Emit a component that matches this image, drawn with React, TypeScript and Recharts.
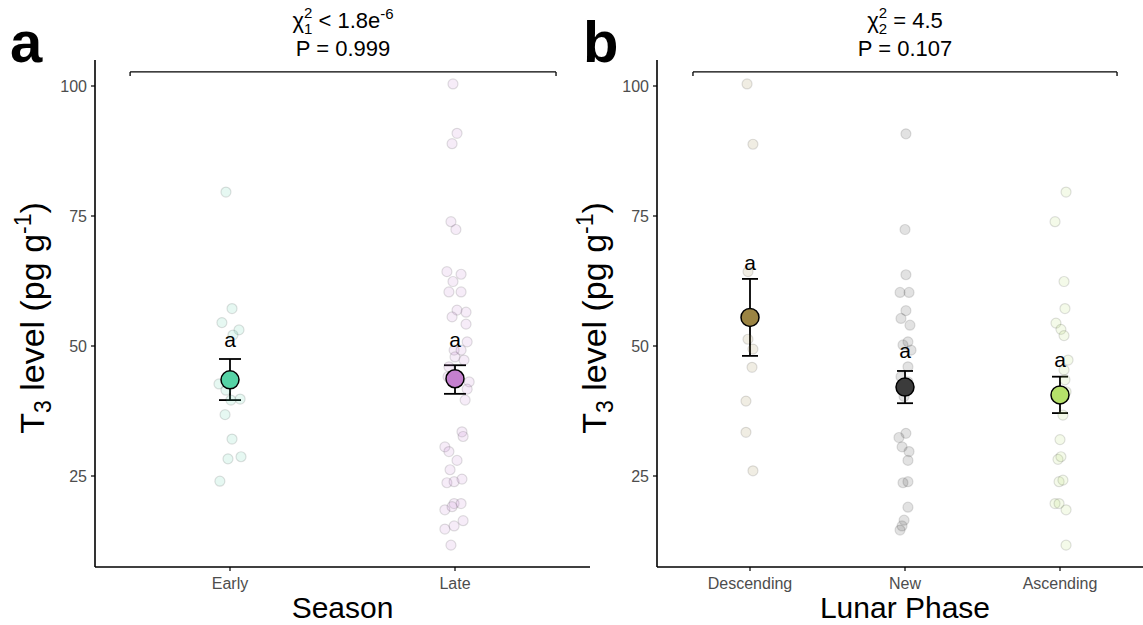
import React from 'react';
import {
  ComposedChart,
  Scatter,
  XAxis,
  YAxis,
  ErrorBar,
  ReferenceLine,
  ReferenceDot,
  Label,
  Cell,
} from 'recharts';

const FONT = '"Liberation Sans", Arial, Helvetica, sans-serif';

// ---------- Panel a : Season ----------
const seasonCategories = ['Early', 'Late'];
const seasonColors = ['#56d3a6', '#c47fce'];
const seasonMeans = [43.5, 43.7];
const seasonLower = [39.6, 40.8];
const seasonUpper = [47.5, 46.3];
const seasonLetters = ['a', 'a'];
const seasonLetterY = [49.9, 49.9];

const earlyValues = [79.6, 57.2, 54.5, 53.1, 52.1, 42.7, 41.5, 39.6, 39.8, 36.8, 32.1, 28.3, 28.7, 24.0];
const earlyJitter = [-0.018, 0.009, -0.036, 0.04, 0.013, -0.049, -0.018, 0.004, 0.045, -0.022, 0.009, -0.009, 0.049, -0.045];

const lateValues = [
  100.4, 90.9, 88.9, 73.9, 72.4, 64.3, 63.8, 62.4, 60.4, 60.4, 56.9, 56.5, 55.6, 54.2, 50.8, 49.2, 49.2, 47.9,
  47.3, 46.0, 44.1, 43.1, 41.7, 39.6, 33.5, 32.6, 30.6, 29.7, 28.0, 26.2, 23.7, 23.9, 24.4, 19.7, 19.7, 18.5,
  19.1, 14.8, 15.4, 16.4, 11.7,
];
const lateJitter = [
  -0.009, 0.009, -0.013, -0.018, 0.004, -0.036, 0.027, -0.009, -0.027, 0.027, 0.009, 0.049, -0.013, 0.049, 0.054,
  -0.004, 0.027, 0, 0.04, -0.027, -0.031, 0.063, 0.054, 0.045, 0.031, 0.036, -0.045, -0.027, 0.009, -0.022, -0.036,
  -0.004, 0.031, -0.004, 0.027, -0.045, -0.013, -0.045, -0.004, 0.036, -0.018,
];

// ---------- Panel b : Lunar phase ----------
const lunarCategories = ['Descending', 'New', 'Ascending'];
const lunarColors = ['#9b8443', '#3b3b3b', '#b5e06a'];
const lunarMeans = [55.5, 42.1, 40.6];
const lunarLower = [48.1, 39.0, 37.1];
const lunarUpper = [62.9, 45.2, 44.1];
const lunarLetters = ['a', 'a', 'a'];
const lunarLetterY = [64.6, 47.6, 45.9];

const descendingValues = [100.4, 88.8, 64.3, 51.3, 49.4, 45.9, 39.4, 33.4, 26.0];
const descendingJitter = [-0.019, 0.019, -0.013, -0.013, 0.019, 0.013, -0.026, -0.026, 0.019];

const newValues = [
  90.8, 72.4, 63.7, 60.3, 60.3, 56.8, 55.3, 54.0, 50.8, 50.2, 49.2, 46.0, 44.1, 43.1, 40.3, 33.2, 32.4, 30.6, 29.7,
  28.0, 23.7, 23.9, 19.0, 16.5, 15.4, 14.6,
];
const newJitter = [
  0.006, 0, 0.006, -0.032, 0.026, 0.006, -0.026, 0.032, 0.019, -0.013, 0.039, 0.019, -0.026, 0.019, -0.006, 0.006,
  -0.039, -0.019, 0.026, 0.019, -0.013, 0.019, 0.019, -0.006, -0.019, -0.032,
];

const ascendingValues = [
  79.6, 73.9, 62.4, 57.2, 54.4, 53.2, 52.0, 47.3, 45.4, 43.5, 41.2, 36.7, 32.0, 28.2, 28.7, 23.9, 24.2, 19.7, 19.7,
  18.5, 11.7,
];
const ascendingJitter = [
  0.039, -0.032, 0.026, 0.032, -0.026, 0.006, 0.026, 0.052, 0.026, 0.032, 0.039, 0.019, 0, -0.013, 0.006, -0.006,
  0.019, -0.032, -0.006, 0.039, 0.039,
];

const yTicks = [25, 50, 75, 100];
const yDomain: [number, number] = [7.5, 105];
const bracketY = 102.7;
const bracketTipY = 101.9;

type Group = { values: number[]; jitter: number[] };

type PanelProps = {
  left: number;
  width: number;
  yAxisWidth: number;
  categories: string[];
  colors: string[];
  groups: Group[];
  means: number[];
  lower: number[];
  upper: number[];
  letters: string[];
  letterY: number[];
  capHalfWidth: number;
  bracket: [number, number];
  stat1: React.ReactNode;
  stat2: string;
  panelLetter: string;
  panelLetterX: number;
  yTitleX: number;
  xTitle: string;
};

const CHART_H = 625;
const TOP = 60;
const X_AXIS_H = 58;

function Panel(p: PanelProps) {
  const n = p.categories.length;
  const xDomain: [number, number] = [0.4, n + 0.6];
  const xTicks = p.categories.map((_, i) => i + 1);
  const meanData = p.means.map((m, i) => ({
    x: i + 1,
    y: m,
    err: [m - p.lower[i], p.upper[i] - m],
  }));
  const letterData = p.letters.map((l, i) => ({ x: i + 1, y: p.letterY[i], letter: l }));
  const plotCenterX = p.yAxisWidth + (p.width - p.yAxisWidth) / 2;

  return (
    <div style={{ position: 'absolute', left: p.left, top: 0 }}>
      <ComposedChart
        width={p.width}
        height={CHART_H}
        margin={{ top: TOP, right: 0, bottom: 0, left: 0 }}
      >
        <XAxis
          type="number"
          dataKey="x"
          domain={xDomain}
          ticks={xTicks}
          allowDataOverflow
          height={X_AXIS_H}
          tickFormatter={(v: number) => p.categories[Math.round(v) - 1] ?? ''}
          axisLine={{ stroke: '#000', strokeWidth: 1.6 }}
          tickLine={{ stroke: '#000', strokeWidth: 1.2 }}
          tickSize={4}
          tickMargin={7}
          tick={{ fill: '#4d4d4d', fontSize: 16, fontFamily: FONT }}
        >
          <Label
            content={() => (
              <text x={plotCenterX} y={618} textAnchor="middle" fontSize={30} fontFamily={FONT} fill="#000">
                {p.xTitle}
              </text>
            )}
          />
        </XAxis>
        <YAxis
          type="number"
          dataKey="y"
          domain={yDomain}
          ticks={yTicks}
          allowDataOverflow
          width={p.yAxisWidth}
          axisLine={{ stroke: '#000', strokeWidth: 1.6 }}
          tickLine={{ stroke: '#000', strokeWidth: 1.2 }}
          tickSize={4}
          tickMargin={4}
          tick={{ fill: '#4d4d4d', fontSize: 16, fontFamily: FONT }}
        >
          <Label
            content={() => (
              <g>
                <text
                  x={p.panelLetterX}
                  y={62}
                  fontSize={58}
                  fontWeight="bold"
                  fontFamily={FONT}
                  fill="#000"
                >
                  {p.panelLetter}
                </text>
                <text
                  transform={`rotate(-90, ${p.yTitleX}, 318)`}
                  x={p.yTitleX}
                  y={318}
                  textAnchor="middle"
                  fontSize={34}
                  fontFamily={FONT}
                  fill="#000"
                >
                  T<tspan fontSize={23} dy={7}>3</tspan>
                  <tspan dy={-7}> level (pg g</tspan>
                  <tspan fontSize={23} dy={-13}>-1</tspan>
                  <tspan dy={13}>)</tspan>
                </text>
              </g>
            )}
          />
        </YAxis>

        <ReferenceLine
          segment={[
            { x: p.bracket[0], y: bracketY },
            { x: p.bracket[1], y: bracketY },
          ]}
          stroke="#000"
          strokeWidth={1.3}
        />
        <ReferenceLine
          segment={[
            { x: p.bracket[0], y: bracketY },
            { x: p.bracket[0], y: bracketTipY },
          ]}
          stroke="#000"
          strokeWidth={1.3}
        />
        <ReferenceLine
          segment={[
            { x: p.bracket[1], y: bracketY },
            { x: p.bracket[1], y: bracketTipY },
          ]}
          stroke="#000"
          strokeWidth={1.3}
        />
        <ReferenceDot
          x={(p.bracket[0] + p.bracket[1]) / 2}
          y={bracketY}
          r={1}
          fill="none"
          stroke="none"
          label={{
            content: (lp: any) => {
              const vb = lp.viewBox || { x: 0, y: 0, width: 0, height: 0 };
              const cx = vb.x + vb.width / 2;
              const cy = vb.y + vb.height / 2;
              return (
                <g fontFamily={FONT} fill="#000">
                  <text x={cx} y={cy - 44} textAnchor="middle" fontSize={22}>
                    {p.stat1}
                  </text>
                  <text x={cx} y={cy - 16} textAnchor="middle" fontSize={22}>
                    {p.stat2}
                  </text>
                </g>
              );
            },
          }}
        />

        {p.groups.map((g, gi) => (
          <Scatter
            key={`pts-${gi}`}
            data={g.values.map((v, i) => ({ x: gi + 1 + g.jitter[i], y: v }))}
            dataKey="y"
            isAnimationActive={false}
            shape={(sp: any) => (
              <circle
                cx={sp.cx}
                cy={sp.cy}
                r={5}
                fill={p.colors[gi]}
                fillOpacity={0.15}
                stroke="#000"
                strokeOpacity={0.12}
                strokeWidth={1.2}
              />
            )}
          />
        ))}

        <Scatter data={meanData} dataKey="y" isAnimationActive={false} shape={() => <g />}>
          <ErrorBar
            dataKey="err"
            direction="y"
            width={p.capHalfWidth}
            stroke="#000"
            strokeWidth={1.8}
            isAnimationActive={false}
          />
        </Scatter>

        <Scatter
          data={meanData}
          dataKey="y"
          isAnimationActive={false}
          shape={(sp: any) => (
            <circle cx={sp.cx} cy={sp.cy} r={9} fill={sp.fill} stroke="#000" strokeWidth={1.5} />
          )}
        >
          {meanData.map((_, i) => (
            <Cell key={`c-${i}`} fill={p.colors[i]} />
          ))}
        </Scatter>

        <Scatter
          data={letterData}
          dataKey="y"
          isAnimationActive={false}
          shape={(sp: any) => (
            <text x={sp.cx} y={sp.cy} textAnchor="middle" fontSize={21} fontFamily={FONT} fill="#000">
              {sp.payload?.letter}
            </text>
          )}
        />
      </ComposedChart>
    </div>
  );
}

export default function App() {
  return (
    <div
      style={{
        position: 'absolute',
        left: 0,
        top: 0,
        width: 1143,
        height: 625,
        overflow: 'hidden',
        background: '#fff',
      }}
    >
      <Panel
        left={0}
        width={590}
        yAxisWidth={95}
        categories={seasonCategories}
        colors={seasonColors}
        groups={[
          { values: earlyValues, jitter: earlyJitter },
          { values: lateValues, jitter: lateJitter },
        ]}
        means={seasonMeans}
        lower={seasonLower}
        upper={seasonUpper}
        letters={seasonLetters}
        letterY={seasonLetterY}
        capHalfWidth={11}
        bracket={[0.556, 2.449]}
        stat1={
          <>
            χ<tspan fontSize={15} dy={-10}>2</tspan>
            <tspan fontSize={15} dx={-8.3} dy={16}>1</tspan>
            <tspan dy={-6}> &lt; 1.8e</tspan>
            <tspan fontSize={15} dy={-9}>-6</tspan>
          </>
        }
        stat2="P = 0.999"
        panelLetter="a"
        panelLetterX={10}
        yTitleX={44}
        xTitle="Season"
      />
      <Panel
        left={560}
        width={593}
        yAxisWidth={97}
        categories={lunarCategories}
        colors={lunarColors}
        groups={[
          { values: descendingValues, jitter: descendingJitter },
          { values: newValues, jitter: newJitter },
          { values: ascendingValues, jitter: ascendingJitter },
        ]}
        means={lunarMeans}
        lower={lunarLower}
        upper={lunarUpper}
        letters={lunarLetters}
        letterY={lunarLetterY}
        capHalfWidth={8}
        bracket={[0.632, 3.368]}
        stat1={
          <>
            χ<tspan fontSize={15} dy={-10}>2</tspan>
            <tspan fontSize={15} dx={-8.3} dy={16}>2</tspan>
            <tspan dy={-6}> = 4.5</tspan>
          </>
        }
        stat2="P = 0.107"
        panelLetter="b"
        panelLetterX={23}
        yTitleX={46}
        xTitle="Lunar Phase"
      />
    </div>
  );
}
